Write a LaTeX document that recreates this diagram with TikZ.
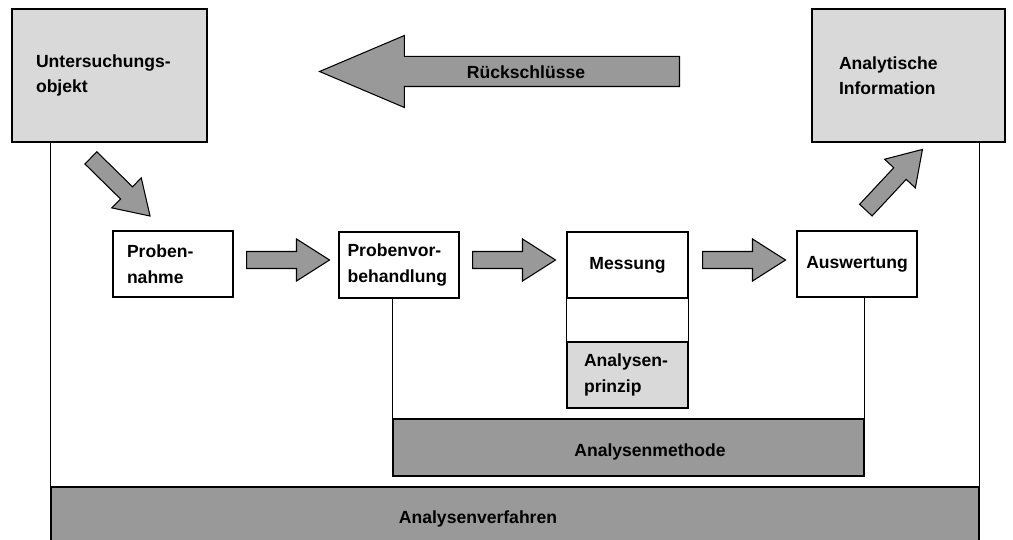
\documentclass[tikz,border=0pt]{standalone}
\usepackage{fontspec}
\setmainfont{Liberation Sans}
\usetikzlibrary{shapes.arrows}

\definecolor{hellgrau}{HTML}{D9D9D9}
\definecolor{mittelgrau}{HTML}{999999}

\begin{document}
\begin{tikzpicture}[x=0.02cm, y=-0.02cm]
      \tikzset{box/.style={draw, rectangle, line width=.7pt, inner ysep=0pt, minimum height=1.32cm, font=\bfseries\fontsize{10}{14.5}\selectfont},
               bar/.style={draw, rectangle, line width=.7pt, fill=mittelgrau, inner sep=0pt},
               lbl/.style={inner sep=0pt, font=\bfseries\fontsize{10}{14.5}\selectfont},
               pfeil/.style={draw, line width=.6pt, fill=mittelgrau, single arrow, anchor=tail, inner xsep=0pt, text height=0pt, text depth=0pt},
               klein/.style={pfeil, minimum height=1.66cm, inner ysep=.16cm, single arrow head extend=.25cm, single arrow tip angle=65},
               linie/.style={line width=.6pt}}

      \clip (0,0) rectangle (1013,540);

      \node[box, fill=hellgrau, minimum width=3.9cm, minimum height=2.66cm, text width=2.94cm, inner xsep=.48cm, align=left] (objekt) at (109.5,75.5) {Untersuchungs-\\objekt};
      \node[box, fill=hellgrau, minimum width=3.86cm, minimum height=2.66cm, text width=2.78cm, inner xsep=.54cm, align=left] (info) at (908.5,75.5) {Analytische\\Information};

      \node[box, minimum width=2.4cm, text width=1.84cm, inner xsep=.28cm, align=left] (probe) at (173,264) {Proben-\\nahme};
      \node[box, minimum width=2.4cm, text width=2.06cm, inner xsep=.17cm, align=left] (vorb) at (399,265) {Probenvor-\\behandlung};
      \node[box, minimum width=2.42cm] (mess) at (627.5,265) {Messung};
      \node[box, fill=hellgrau, minimum width=2.42cm, text width=1.74cm, inner xsep=.34cm, align=left] (prinzip) at (627.5,375) {Analysen-\\prinzip};
      \node[box, minimum width=2.4cm] (ausw) at (857,264) {Auswertung};

      \node[bar, minimum width=9.42cm, minimum height=1.14cm] (methode) at (628.5,447.5) {};
      \node[lbl] (methode_text) at (650,452) {Analysenmethode};
      \node[bar, minimum width=18.56cm, minimum height=1.38cm] (verfahren) at (515,521.5) {};
      \node[lbl] (verfahren_text) at (478,519) {Analysenverfahren};

      \node[pfeil, rotate=180, minimum height=7.2cm, inner ysep=.29cm, single arrow head extend=.42cm, single arrow tip angle=46] (rueck) at (680,71.5) {};
      \node[lbl] (rueck_text) at (526,72) {Rückschlüsse};

      \node[klein, rotate=-44.5] (pfeil0) at (90.5,157.5) {};
      \node[klein] (pfeil1) at (246,260) {};
      \node[klein] (pfeil2) at (472,260) {};
      \node[klein] (pfeil3) at (702,260) {};
      \node[klein, rotate=47] (pfeil4) at (865.5,210.5) {};

      \draw[linie] (verfahren.north west |- objekt.south) -- (verfahren.north west);
      \draw[linie] (verfahren.north east |- info.south) -- (verfahren.north east);
      \draw[linie] (methode.north west |- vorb.south) -- (methode.north west);
      \draw[linie] (methode.north east |- ausw.south) -- (methode.north east);
      \draw[linie] (mess.south west) -- (prinzip.north west);
      \draw[linie] (mess.south east) -- (prinzip.north east);
\end{tikzpicture}
\end{document}
